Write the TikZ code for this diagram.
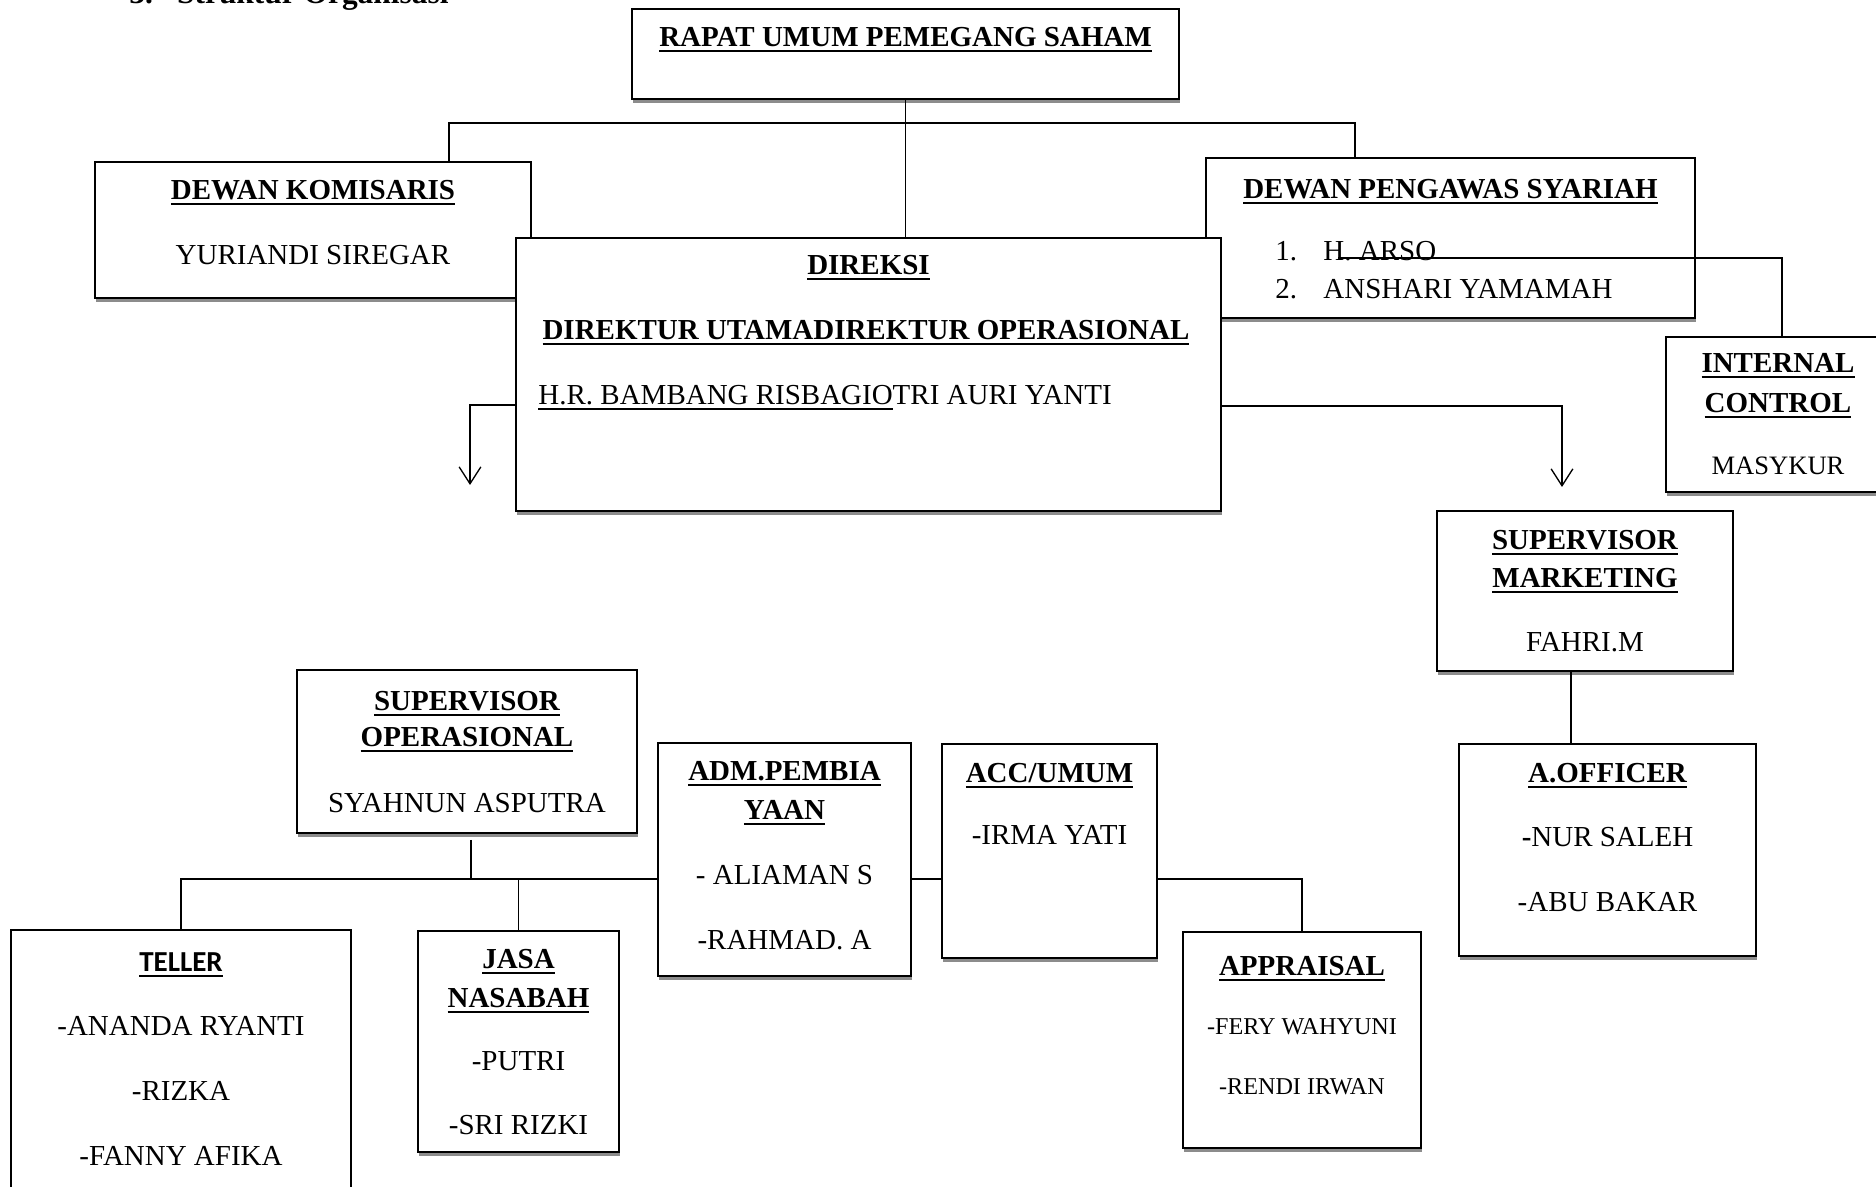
\documentclass[tikz,border=0pt]{standalone}
\usepackage{fontspec}
\setmainfont{Liberation Serif}
\newfontfamily\calfont{Carlito}
\usepackage{tikz}
\usetikzlibrary{arrows.meta,shadows,fit}

\newcommand{\hd}[1]{\setbox0\hbox{\bfseries #1}\rlap{\rule[-2.2pt]{\wd0}{1pt}}\box0}
\newcommand{\garis}[1]{\setbox0\hbox{#1}\rlap{\rule[-1.9pt]{\wd0}{0.6pt}}\box0}

\tikzset{
  kotak/.style={draw, line width=0.7pt, fill=white, inner sep=0pt,
    drop shadow={shadow xshift=0.5pt, shadow yshift=-1.6pt, fill=black!45, opacity=1}},
  teks/.style={anchor=base, inner sep=0pt, font=\fontsize{12}{14}\selectfont},
  kecil/.style={teks, font=\fontsize{10}{12}\selectfont},
  hubung/.style={line width=0.55pt}
}

\begin{document}
\begin{tikzpicture}[x=0.414pt, y=-0.414pt, >={Straight Barb[length=7pt,width=9pt]}]

\useasboundingbox (0,0) rectangle (1876,1187);
\clip (0,0) rectangle (1876,1187);

\node [anchor=base west, inner sep=0pt, font=\bfseries\fontsize{13}{15}\selectfont] (judul) at (129,4) {3.\hspace{10pt}Struktur Organisasi};

% dewan
\node [kotak, fit={(632,9) (1179,99)}] (rups) {};
\node [teks] (rups-1) at (rups.center |- 0,47) {\hd{RAPAT UMUM PEMEGANG SAHAM}};

\node [kotak, fit={(95,162) (531,298)}] (dk) {};
\foreach \yy/\isi [count=\i] in {200/{\hd{DEWAN KOMISARIS}}, 265/{YURIANDI SIREGAR}}
  \node [teks] (dk-\i) at (dk.center |- 0,\yy) {\isi};

\node [kotak, fit={(1206,158) (1695,318)}] (dps) {};
\node [teks] (dps-1) at (dps.center |- 0,199) {\hd{DEWAN PENGAWAS SYARIAH}};
\foreach \no/\nama/\yy in {1/H. ARSO/261, 2/ANSHARI YAMAMAH/299} {
  \node [teks, anchor=base west] (dps-no\no) at (1275,\yy) {\no.};
  \node [teks, anchor=base west] (dps-nama\no) at (1323,\yy) {\nama};
}

\coordinate (kiri) at (449,123);
\coordinate (kanan) at (1355,123);
\draw [hubung] (dk.north -| kiri) -- (kiri) -- (kanan) -- (dps.north -| kanan);

% internal control
\node [kotak, fit={(1666,337) (1890,492)}] (ic) {};
\foreach \yy/\isi [count=\i] in {373/{\hd{INTERNAL}}, 413/{\hd{CONTROL}}}
  \node [teks] (ic-\i) at (ic.center |- 0,\yy) {\isi};
\node [teks, font=\fontsize{11}{13}\selectfont] (ic-3) at (ic.center |- 0,475) {MASYKUR};

\coordinate (arso) at (1338,258);
\coordinate (belokic) at (1782,258);
\draw [hubung] (arso) -- (belokic) -- (ic.north -| belokic);

% direksi
\node [kotak, fit={(516,238) (1221,511)}] (direksi) {};
\node [teks] (direksi-1) at (direksi.center |- 0,275) {\hd{DIREKSI}};
\node [teks] (direksi-2) at (866,340) {\hd{DIREKTUR UTAMADIREKTUR OPERASIONAL}};
\node [teks, anchor=base west] (direksi-3) at (538,405) {\garis{H.R. BAMBANG RISBAGIO}TRI AURI YANTI};

\draw [hubung] (rups.south) -- (rups.south |- direksi.north);

\coordinate (belokki) at (470,405);
\coordinate (ujungki) at (470,485);
\draw [hubung, ->] (direksi.west |- belokki) -- (belokki) -- (ujungki);

\coordinate (belokka) at (1562,406);
\coordinate (ujungka) at (1562,487);
\draw [hubung, ->] (direksi.east |- belokka) -- (belokka) -- (ujungka);

% marketing
\node [kotak, fit={(1437,511) (1733,671)}] (sm) {};
\foreach \yy/\isi [count=\i] in {550/{\hd{SUPERVISOR}}, 588/{\hd{MARKETING}}, 652/{FAHRI.M}}
  \node [teks] (sm-\i) at (sm.center |- 0,\yy) {\isi};

\node [kotak, fit={(1459,744) (1756,956)}] (ao) {};
\foreach \yy/\isi [count=\i] in {783/{\hd{A.OFFICER}}, 847/{{\bfseries -}NUR SALEH}, 912/{-ABU BAKAR}}
  \node [teks] (ao-\i) at (ao.center |- 0,\yy) {\isi};

\coordinate (smao) at (1571,700);
\draw [hubung] (sm.south -| smao) -- (ao.north -| smao);

% operasional
\node [kotak, fit={(297,670) (637,833)}] (so) {};
\foreach \yy/\isi [count=\i] in {711/{\hd{SUPERVISOR}}, 747/{\hd{OPERASIONAL}}, 813/{SYAHNUN ASPUTRA}}
  \node [teks] (so-\i) at (so.center |- 0,\yy) {\isi};

\node [kotak, fit={(11,930) (351,1225)}] (teller) {};
\foreach \yy/\isi [count=\i] in {972/{\hd{\calfont TELLER}}, 1036/{-ANANDA RYANTI}, 1101/{-RIZKA}, 1166/{-FANNY AFIKA}}
  \node [teks] (teller-\i) at (teller.center |- 0,\yy) {\isi};

\node [kotak, fit={(418,931) (619,1152)}] (jasa) {};
\foreach \yy/\isi [count=\i] in {969/{\hd{JASA}}, 1008/{\hd{NASABAH}}, 1071/{-PUTRI}, 1135/{-SRI RIZKI}}
  \node [teks] (jasa-\i) at (jasa.center |- 0,\yy) {\isi};

\node [kotak, fit={(658,743) (911,976)}] (adm) {};
\foreach \yy/\isi [count=\i] in {781/{\hd{ADM.PEMBIA}}, 820/{\hd{YAAN}}, 885/{- ALIAMAN S}, 950/{-RAHMAD. A}}
  \node [teks] (adm-\i) at (adm.center |- 0,\yy) {\isi};

\node [kotak, fit={(942,744) (1157,958)}] (acc) {};
\foreach \yy/\isi [count=\i] in {783/{\hd{ACC/UMUM}}, 845/{-IRMA YATI}}
  \node [teks] (acc-\i) at (acc.center |- 0,\yy) {\isi};

\node [kotak, fit={(1183,932) (1421,1148)}] (appr) {};
\node [teks] (appr-1) at (appr.center |- 0,976) {\hd{APPRAISAL}};
\foreach \yy/\isi [count=\i from 2] in {1035/{-FERY WAHYUNI}, 1095/{-RENDI IRWAN}}
  \node [kecil] (appr-\i) at (appr.center |- 0,\yy) {\isi};

\coordinate (so-bawah) at (471,840);
\coordinate (bus) at (471,879);
\draw [hubung] (so-bawah) -- (bus);
\draw [hubung] (teller.north) -- (teller.north |- bus) -- (adm.west |- bus);
\draw [hubung] (jasa.north) -- (jasa.north |- bus);
\draw [hubung] (adm.east |- bus) -- (acc.west |- bus);
\draw [hubung] (acc.east |- bus) -- (bus -| appr.north) -- (appr.north);

\end{tikzpicture}
\end{document}
